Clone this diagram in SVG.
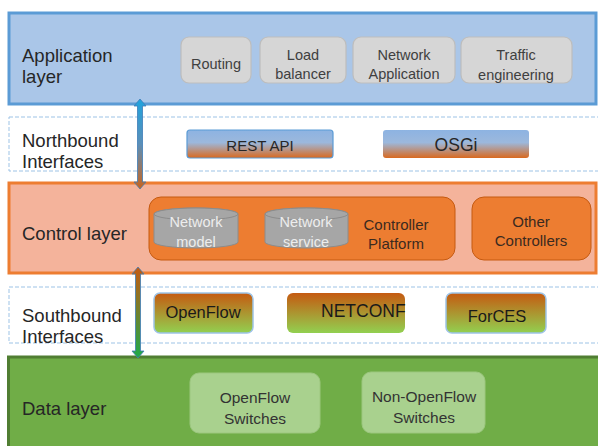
<svg xmlns="http://www.w3.org/2000/svg" width="598" height="446" viewBox="0 0 598 446">
<defs>
<linearGradient id="gBlueOrange" x1="0" y1="0" x2="0" y2="1">
<stop offset="0" stop-color="#8DB3E2"/><stop offset="0.45" stop-color="#9CB8DC"/><stop offset="1" stop-color="#D9691F"/>
</linearGradient>
<linearGradient id="gOrangeGreen" x1="0" y1="0" x2="0" y2="1">
<stop offset="0" stop-color="#C55A11"/><stop offset="1" stop-color="#92D050"/>
</linearGradient>
<linearGradient id="gArrowUp" x1="0" y1="0" x2="0" y2="1">
<stop offset="0" stop-color="#1FA3DE"/><stop offset="0.5" stop-color="#5B8FB8"/><stop offset="1" stop-color="#C8641E"/>
</linearGradient>
<linearGradient id="gArrowDown" x1="0" y1="0" x2="0" y2="1">
<stop offset="0" stop-color="#C55A11"/><stop offset="1" stop-color="#1DAA4A"/>
</linearGradient>
<style>
text{font-family:"Liberation Sans",Arial,sans-serif;}
.lbl{font-size:18.5px;fill:#262626;}
.app{fill:#D6D6D6;stroke:#BDBDBD;stroke-width:1.2;}
.apt{font-size:14.5px;fill:#404040;text-anchor:middle;}
.band{fill:#FFFFFF;stroke:#9DC3E6;stroke-width:1;stroke-dasharray:4 2;}
.ctl{fill:#ED7D31;stroke:#C55A11;stroke-width:1;}
.cyl{fill:#A6A6A6;stroke:#8C8C8C;stroke-width:1;}
.cyt{font-size:14.5px;fill:#EDEDED;text-anchor:middle;}
.ct{font-size:15px;fill:#3B2A1F;text-anchor:middle;}
.sb{font-size:16.5px;fill:#1A1A1A;text-anchor:middle;}
.sw{fill:#A9D18E;stroke:#9CC77F;stroke-width:1;}
.swt{font-size:15.5px;fill:#333333;text-anchor:middle;}
.arr{stroke:#3D7CB8;stroke-width:0.8;}
</style>
</defs>

<g id="application-layer">
<rect x="9" y="13" width="587" height="91" fill="#AAC6E8" stroke="#5B9BD5" stroke-width="3"/>
<text class="lbl" x="22" y="62">Application</text>
<text class="lbl" x="22" y="83">layer</text>
</g>
<g id="routing">
<rect class="app" x="181" y="37" width="70" height="46" rx="8"/>
<text class="apt" x="216" y="69">Routing</text>
</g>
<g id="load-balancer">
<rect class="app" x="260" y="37" width="86" height="46" rx="8"/>
<text class="apt" x="303" y="60">Load</text>
<text class="apt" x="303" y="79">balancer</text>
</g>
<g id="network-application">
<rect class="app" x="353" y="37" width="102" height="46" rx="8"/>
<text class="apt" x="404" y="60">Network</text>
<text class="apt" x="404" y="79">Application</text>
</g>
<g id="traffic-engineering">
<rect class="app" x="461" y="37" width="111" height="46" rx="8"/>
<text class="apt" x="516" y="60">Traffic</text>
<text class="apt" x="516" y="80">engineering</text>
</g>

<g id="northbound-interfaces">
<rect class="band" x="9" y="117" width="592" height="54"/>
<text class="lbl" x="22" y="147">Northbound</text>
<text class="lbl" x="22" y="168">Interfaces</text>
</g>
<g id="rest-api">
<rect x="187" y="130" width="146" height="28" rx="3" fill="url(#gBlueOrange)" stroke="#5B9BD5" stroke-width="1.2"/>
<text x="260" y="151" font-size="15px" fill="#262626" text-anchor="middle">REST API</text>
</g>
<g id="osgi">
<rect x="383" y="130" width="146" height="28" rx="3" fill="url(#gBlueOrange)"/>
<text x="456" y="151" font-size="17.5px" fill="#262626" text-anchor="middle">OSGi</text>
</g>

<g id="control-layer">
<rect x="9" y="183" width="587" height="90" fill="#F4B39B" stroke="#ED7D31" stroke-width="3"/>
<text class="lbl" x="22" y="240">Control layer</text>
</g>
<g id="controller-platform">
<rect class="ctl" x="149" y="197" width="306" height="63" rx="12"/>
<text class="ct" x="396" y="230">Controller</text>
<text class="ct" x="396" y="249">Platform</text>
</g>
<g id="network-model">
<path class="cyl" d="M154,214 L154,242 A42,6 0 0 0 238,242 L238,214 A42,6 0 0 0 154,214 Z"/>
<ellipse class="cyl" cx="196" cy="214" rx="42" ry="6"/>
<text class="cyt" x="196" y="227">Network</text>
<text class="cyt" x="196" y="247">model</text>
</g>
<g id="network-service">
<path class="cyl" d="M265,214 L265,242 A41.5,6 0 0 0 348,242 L348,214 A41.5,6 0 0 0 265,214 Z"/>
<ellipse class="cyl" cx="306.5" cy="214" rx="41.5" ry="6"/>
<text class="cyt" x="306" y="227">Network</text>
<text class="cyt" x="306" y="247">service</text>
</g>
<g id="other-controllers">
<rect class="ctl" x="472" y="197" width="119" height="63" rx="12"/>
<text class="ct" x="531" y="227">Other</text>
<text class="ct" x="531" y="246">Controllers</text>
</g>

<g id="southbound-interfaces">
<rect class="band" x="9" y="287" width="592" height="56"/>
<text class="lbl" x="22" y="322">Southbound</text>
<text class="lbl" x="22" y="343">Interfaces</text>
</g>
<g id="openflow">
<rect x="154" y="293" width="99" height="40" rx="6" fill="url(#gOrangeGreen)" stroke="#9DC3E6" stroke-width="1.5"/>
<text class="sb" x="203" y="318">OpenFlow</text>
</g>
<g id="netconf">
<rect x="287" y="293" width="118" height="40" rx="6" fill="url(#gOrangeGreen)"/>
<text x="321" y="317" font-size="17.5px" fill="#1A1A1A">NETCONF</text>
</g>
<g id="forces">
<rect x="446" y="293" width="100" height="40" rx="6" fill="url(#gOrangeGreen)" stroke="#9DC3E6" stroke-width="1.5"/>
<text class="sb" x="497" y="322" font-size="15.5px">ForCES</text>
</g>

<g id="data-layer">
<rect x="8.5" y="357" width="592" height="92" fill="#70AD47" stroke="#507E32" stroke-width="3"/>
<text class="lbl" x="22" y="415">Data layer</text>
</g>
<g id="openflow-switches">
<rect class="sw" x="190" y="373" width="130" height="60" rx="9"/>
<text class="swt" x="255" y="403">OpenFlow</text>
<text class="swt" x="255" y="424">Switches</text>
</g>
<g id="non-openflow-switches">
<rect class="sw" x="362" y="372" width="123" height="61" rx="9"/>
<text class="swt" x="424" y="402">Non-OpenFlow</text>
<text class="swt" x="424" y="423">Switches</text>
</g>

<g id="connectors">
<polygon class="arr" fill="url(#gArrowUp)" points="140,99 146,106 142.5,106 142.5,182 146,182 140,189 134,182 137.5,182 137.5,106 134,106"/>
<polygon class="arr" fill="url(#gArrowDown)" points="138,267 144,274 140.5,274 140.5,351 144,351 138,358 132,351 135.5,351 135.5,274 132,274"/>
</g>
</svg>
